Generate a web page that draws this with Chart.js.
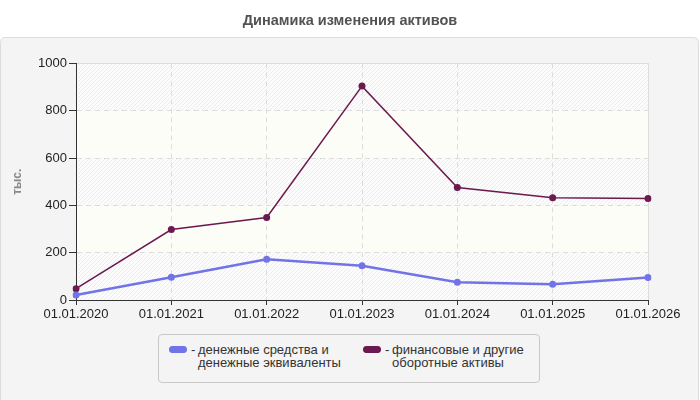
<!DOCTYPE html>
<html>
<head>
<meta charset="utf-8">
<script src="https://cdn.jsdelivr.net/npm/chart.js@4.4.1/dist/chart.umd.min.js"></script>
<style>
  html, body { margin: 0; padding: 0; background: #ffffff; }
  #wrap { position: relative; width: 700px; height: 400px; }
  canvas { position: absolute; left: 0; top: 0; }
  #legend {
    position: absolute; left: 158px; top: 334px; width: 382px; height: 49px;
    border: 1px solid #c8c8c8; border-radius: 4px; background: #f4f4f4;
    font-family: "Liberation Sans", Arial, sans-serif; font-size: 13px; line-height: 13px; color: #333;
    box-sizing: border-box;
  }
  .item { position: absolute; top: 8px; }
  .sw { position: absolute; top: 3px; width: 18px; height: 7px; border-radius: 3px; border: 1px solid #999; box-sizing: border-box; }
  .txt { position: absolute; left: 29px; top: 0; white-space: nowrap; }
  .dash { position: absolute; left: -7px; top: 0; }
</style>
</head>
<body>
<div id="wrap">
  <canvas id="c" width="700" height="400"></canvas>
  <div id="legend"></div>
</div>
<script>
const title = 'Динамика изменения активов';
const yTitle = 'тыс.';
const categories = ['01.01.2020', '01.01.2021', '01.01.2022', '01.01.2023', '01.01.2024', '01.01.2025', '01.01.2026'];
const seriesNames = [['денежные средства и', 'денежные эквиваленты'], ['финансовые и другие', 'оборотные активы']];
const cashValues = [21, 96, 172, 145, 75, 67, 95];
const otherAssetsValues = [48, 298, 349, 904, 475, 432, 429];
const yTicks = [0, 200, 400, 600, 800, 1000];
const colors = ['#7373e8', '#6b1a50'];

// HTML legend
const legendEl = document.getElementById('legend');
const legendX = [10, 204];
seriesNames.forEach((lines, i) => {
  const it = document.createElement('div');
  it.className = 'item';
  it.style.left = legendX[i] + 'px';
  const sw = document.createElement('div');
  sw.className = 'sw';
  sw.style.background = colors[i];
  sw.style.borderColor = colors[i];
  const tx = document.createElement('div');
  tx.className = 'txt';
  tx.innerHTML = '<span class="dash">-</span>' + lines.join('<br>');
  it.appendChild(sw); it.appendChild(tx);
  legendEl.appendChild(it);
});

function hatchPattern(ctx) {
  const p = document.createElement('canvas');
  p.width = 4; p.height = 4;
  const g = p.getContext('2d');
  g.fillStyle = '#fcfcfc';
  g.fillRect(0, 0, 4, 4);
  g.strokeStyle = '#ededed';
  g.lineWidth = 1;
  g.beginPath();
  g.moveTo(0, 4); g.lineTo(4, 0);
  g.moveTo(-1, 1); g.lineTo(1, -1);
  g.moveTo(3, 5); g.lineTo(5, 3);
  g.stroke();
  return ctx.createPattern(p, 'repeat');
}

const bgPlugin = {
  id: 'bg',
  beforeDraw(chart) {
    const ctx = chart.ctx;
    const ca = chart.chartArea;
    ctx.save();
    const x = 0.5, y = 37.5, w = 698, h = 380, r = 5;
    ctx.beginPath();
    ctx.moveTo(x + r, y);
    ctx.lineTo(x + w - r, y);
    ctx.quadraticCurveTo(x + w, y, x + w, y + r);
    ctx.lineTo(x + w, y + h);
    ctx.lineTo(x, y + h);
    ctx.lineTo(x, y + r);
    ctx.quadraticCurveTo(x, y, x + r, y);
    ctx.closePath();
    ctx.fillStyle = '#f4f4f4';
    ctx.fill();
    ctx.strokeStyle = '#dcdcdc';
    ctx.lineWidth = 1;
    ctx.stroke();
    const ys = chart.scales.y;
    const pat = hatchPattern(ctx);
    for (let i = 0; i < yTicks.length - 1; i++) {
      const top = ys.getPixelForValue(yTicks[i + 1]);
      const bot = ys.getPixelForValue(yTicks[i]);
      ctx.fillStyle = (i % 2 === 0) ? pat : '#fdfdf8';
      ctx.fillRect(ca.left, top, ca.right - ca.left, bot - top);
    }
    ctx.strokeStyle = '#dddddd';
    ctx.strokeRect(Math.round(ca.left) + 0.5, Math.round(ca.top) + 0.5, Math.round(ca.right - ca.left), Math.round(ca.bottom - ca.top));
    ctx.restore();
  }
};

const font = '"Liberation Sans", Arial, sans-serif';

new Chart(document.getElementById('c'), {
  type: 'line',
  data: {
    labels: categories,
    datasets: [
      {
        label: seriesNames[0].join(' '),
        data: cashValues,
        borderColor: colors[0],
        backgroundColor: colors[0],
        borderWidth: 2.5,
        pointRadius: 3.5,
        pointBorderWidth: 0,
        pointHoverRadius: 3.5,
        tension: 0,
        yAxisID: 'y'
      },
      {
        label: seriesNames[1].join(' '),
        data: otherAssetsValues,
        borderColor: colors[1],
        backgroundColor: colors[1],
        borderWidth: 1.5,
        pointRadius: 3.5,
        pointBorderWidth: 0,
        pointHoverRadius: 3.5,
        tension: 0,
        yAxisID: 'y'
      }
    ]
  },
  options: {
    responsive: false,
    animation: false,
    events: [],
    layout: { padding: { left: 0, right: 0, top: 0, bottom: 78 } },
    plugins: {
      legend: { display: false },
      tooltip: { enabled: false },
      title: {
        display: true,
        text: title,
        color: '#525252',
        font: { family: font, size: 14.5, weight: 'bold' },
        padding: { top: 12, bottom: 34 }
      }
    },
    scales: {
      x: {
        offset: false,
        grid: { color: '#dddddd', lineWidth: 1, tickColor: '#333333', tickLength: 5, tickWidth: 1 },
        border: { color: '#333333', width: 1, dash: [5, 4] },
        ticks: {
          color: '#222222', padding: 2, maxRotation: 0, autoSkip: false,
          font: { family: font, size: 13 }
        },
        afterFit(s) { s.height = 22; }
      },
      y: {
        min: 0, max: 1000,
        afterBuildTicks(s) { s.ticks = yTicks.map(v => ({ value: v })); },
        grid: { color: '#dddddd', lineWidth: 1, tickColor: '#333333', tickLength: 7, tickWidth: 1 },
        border: { color: '#333333', width: 1, dash: [5, 4] },
        ticks: {
          color: '#222222', padding: 2,
          font: { family: font, size: 13 },
          callback: (v) => String(v)
        },
        title: {
          display: true, text: yTitle, color: '#888888',
          font: { family: font, size: 12, weight: 'bold' },
          padding: { top: 10, bottom: 0 }
        },
        afterFit(s) { s.width = 76; }
      },
      yRight: {
        position: 'right',
        display: true,
        min: 0, max: 1000,
        grid: { display: false, drawTicks: false },
        border: { display: false },
        ticks: { display: false },
        afterFit(s) { s.width = 52; }
      }
    }
  },
  plugins: [bgPlugin]
});
</script>
</body>
</html>
